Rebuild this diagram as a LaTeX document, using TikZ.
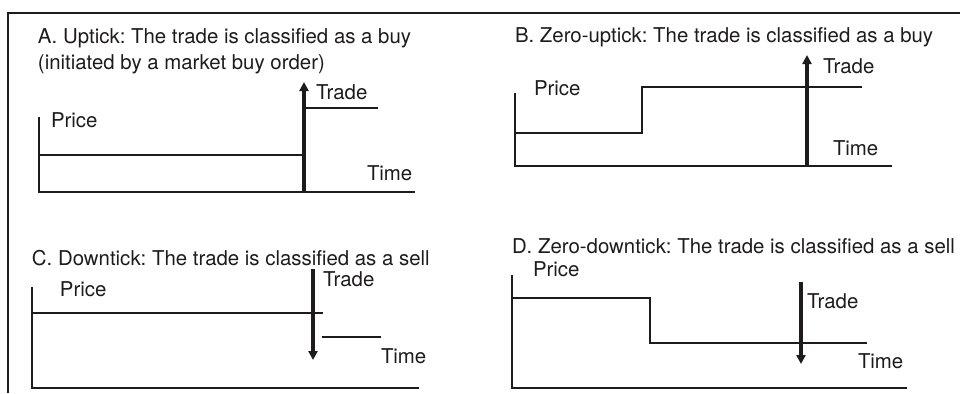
\documentclass[tikz,border=0pt]{standalone}
\usepackage{fontspec}
\setmainfont{TeX Gyre Heros}
\usetikzlibrary{arrows.meta}
\definecolor{ink}{HTML}{1E1B1C}
\tikzset{
  lbl/.style={anchor=base west, inner sep=0pt, outer sep=0pt, text=ink, font=\fontsize{10.2}{12.6}\selectfont},
  axisline/.style={draw=ink, line width=0.75pt},
  priceline/.style={draw=ink, line width=0.7pt},
  tradearrow/.style={draw=ink, line width=2pt, -{Triangle[width=4.5pt,length=4.5pt]}},
  frameline/.style={draw=ink, line width=1.2pt},
}
\frenchspacing
\begin{document}
\begin{tikzpicture}[x=0.5pt,y=-0.5pt]
\useasboundingbox (0,0) rectangle (960,393);
% frame
\coordinate (fbl) at (8,393);
\coordinate (ftl) at (8,13);
\coordinate (ftr) at (960,13);
\draw[frameline] (fbl) -- (ftl) -- (ftr);

% ---------- Panel A ----------
\node[lbl] (tA1) at (38,43) {A. Uptick: The trade is classified as a buy};
\node[lbl] (tA2) at (38,69) {(initiated by a market buy order)};
\coordinate (Ao) at (39,192);
\coordinate (Atop) at (39,117);
\coordinate (Aend) at (415,192);
\coordinate (Ap1s) at (39,155);
\coordinate (Ap1e) at (303,155);
\coordinate (Ap2s) at (306,108);
\coordinate (Ap2e) at (378,108);
\coordinate (Atb) at (304,192);
\coordinate (Att) at (304,82);
\draw[axisline] (Atop) -- (Ao) -- (Aend);
\draw[priceline] (Ap1s) -- (Ap1e);
\draw[priceline] (Ap2s) -- (Ap2e);
\draw[tradearrow] (Atb) -- (Att);
\node[lbl] (Aprice) at (51,127) {Price};
\node[lbl] (Atrade) at (316,99) {Trade};
\node[lbl] (Atime) at (367,180) {Time};

% ---------- Panel B ----------
\node[lbl] (tB) at (515,42) {B. Zero-uptick: The trade is classified as a buy};
\coordinate (Bo) at (515,166);
\coordinate (Btop) at (515,93);
\coordinate (Bend) at (892,166);
\coordinate (Bp1s) at (515,133);
\coordinate (Bstep1) at (642,133);
\coordinate (Bstep2) at (642,87);
\coordinate (Bp2e) at (862,87);
\coordinate (Btb) at (807,166);
\coordinate (Btt) at (807,55);
\draw[axisline] (Btop) -- (Bo) -- (Bend);
\draw[priceline] (Bp1s) -- (Bstep1) -- (Bstep2) -- (Bp2e);
\draw[tradearrow] (Btb) -- (Btt);
\node[lbl] (Bprice) at (534,95) {Price};
\node[lbl] (Btrade) at (823,73) {Trade};
\node[lbl] (Btime) at (833,155) {Time};

% ---------- Panel C ----------
\node[lbl] (tC) at (32,265) {C. Downtick: The trade is classified as a sell};
\coordinate (Co) at (32,388);
\coordinate (Ctop) at (32,287);
\coordinate (Cend) at (419,388);
\coordinate (Cp1s) at (32,313);
\coordinate (Cp1e) at (323,313);
\coordinate (Cp2s) at (322,337);
\coordinate (Cp2e) at (381,337);
\coordinate (Ctt) at (313,269);
\coordinate (Ctb) at (313,360);
\draw[axisline] (Ctop) -- (Co) -- (Cend);
\draw[priceline] (Cp1s) -- (Cp1e);
\draw[priceline] (Cp2s) -- (Cp2e);
\draw[tradearrow] (Ctt) -- (Ctb);
\node[lbl] (Cprice) at (60,296) {Price};
\node[lbl] (Ctrade) at (323,286) {Trade};
\node[lbl] (Ctime) at (381,363) {Time};

% ---------- Panel D ----------
\node[lbl] (tD) at (512,253) {D. Zero-downtick: The trade is classified as a sell};
\coordinate (Do) at (512,388);
\coordinate (Dtop) at (512,275);
\coordinate (Dend) at (907,388);
\coordinate (Dp1s) at (512,298);
\coordinate (Dstep1) at (650,298);
\coordinate (Dstep2) at (650,343);
\coordinate (Dp2e) at (867,343);
\coordinate (Dtt) at (801,282);
\coordinate (Dtb) at (801,364);
\draw[axisline] (Dtop) -- (Do) -- (Dend);
\draw[priceline] (Dp1s) -- (Dstep1) -- (Dstep2) -- (Dp2e);
\draw[tradearrow] (Dtt) -- (Dtb);
\node[lbl] (Dprice) at (533,276) {Price};
\node[lbl] (Dtrade) at (807,308) {Trade};
\node[lbl] (Dtime) at (858,368) {Time};
\end{tikzpicture}
\end{document}
